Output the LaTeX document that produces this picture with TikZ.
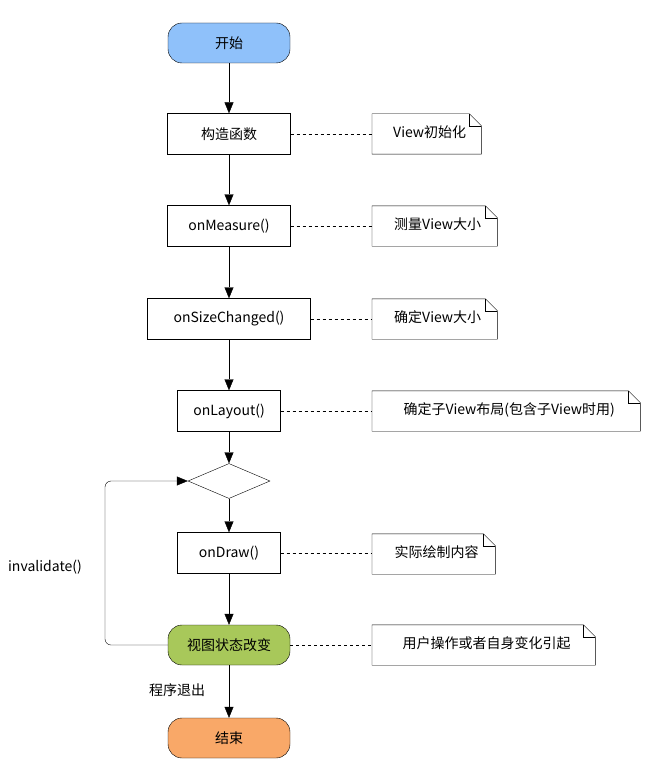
\documentclass[tikz,border=0pt]{standalone}
\usepackage{fontspec}
\setmainfont{Noto Sans CJK SC}
\usetikzlibrary{shapes.geometric,arrows.meta}
\definecolor{startc}{HTML}{8FC1FA}
\definecolor{stopc}{HTML}{F9A868}
\definecolor{statec}{HTML}{A8C85A}
\begin{document}
\begin{tikzpicture}[x=1pt,y=-1pt,
  every node/.style={font=\fontsize{14}{16}\selectfont, inner sep=0pt},
  term/.style={draw, rounded corners=14pt, minimum width=122pt, minimum height=40pt},
  box/.style={draw, minimum height=41pt},
  note/.style={minimum height=40pt, anchor=west, align=left, text depth=0pt},
  arr/.style={-{Triangle[length=11pt,width=9pt]}},
  dot/.style={dashed, dash pattern=on 3pt off 3pt}]
\useasboundingbox (0,0) rectangle (649,778);
\node[term, fill=startc] (s) at (229,43) {开始};
\node[box, minimum width=123pt] (a) at (229,134) {构造函数};
\node[box, minimum width=123pt] (b) at (229,226) {onMeasure()};
\node[box, minimum width=163pt] (c) at (229,319) {onSizeChanged()};
\node[box, minimum width=103pt] (d) at (229,411) {onLayout()};
\node[draw, diamond, aspect=2.35, minimum width=82pt, minimum height=35pt] (q) at (229,481) {};
\node[box, minimum width=103pt] (e) at (229,553) {onDraw()};
\node[term, fill=statec] (f) at (229,645) {视图状态改变};
\node[term, fill=stopc] (g) at (229,738) {结束};
\newcommand{\mynote}[4]{%
  \node[note, minimum width=#3pt] (#1) at (372,#2) {\raisebox{4pt}{\hspace{6pt}#4}};
  \draw (#1.north west) -- ([xshift=-12pt]#1.north east) -- ([yshift=-12pt]#1.north east) -- (#1.south east) -- (#1.south west) -- cycle;
  \draw ([xshift=-12pt]#1.north east) -- ([xshift=-12pt,yshift=-12pt]#1.north east) -- ([yshift=-12pt]#1.north east);
}
\mynote{n1}{134}{109}{View初始化}
\mynote{n2}{226}{125}{测量View大小}
\mynote{n3}{319}{125}{确定View大小}
\mynote{n4}{411}{268}{确定子View布局(包含子View时用)}
\mynote{n5}{554}{123}{实际绘制内容}
\mynote{n6}{645}{223}{用户操作或者自身变化引起}
\draw[arr] (s) -- (a);
\draw[arr] (a) -- (b);
\draw[arr] (b) -- (c);
\draw[arr] (c) -- (d);
\draw[arr] (d) -- (q);
\draw[arr] (q) -- (e);
\draw[arr] (e) -- (f);
\draw[arr] (f) -- (g);
\draw[arr, rounded corners=6pt] (f.west) -- (105,645) -- (105,481) -- (q.west);
\foreach \u/\v in {a/n1,b/n2,c/n3,d/n4,e/n5,f/n6} \draw[dot] (\u.east) -- (\v.west |- \u.east);
\node (inv) at (45,567) {invalidate()};
\node (exit) at (177,690) {程序退出};
\end{tikzpicture}
\end{document}
